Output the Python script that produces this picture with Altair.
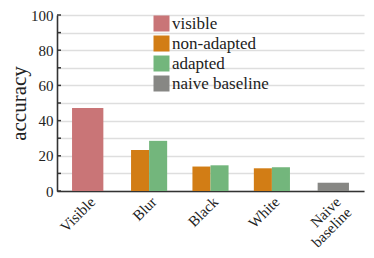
import altair as alt
import pandas as pd

conditions = ["Visible", "Blur", "Blur", "Black", "Black", "White", "White", "Naive baseline"]
series = ["visible", "non-adapted", "adapted", "non-adapted", "adapted", "non-adapted", "adapted", "naive baseline"]
accuracy = [47.1, 23.3, 28.5, 13.9, 14.6, 12.9, 13.5, 4.7]

category_order = ["Visible", "Blur", "Black", "White", "Naive baseline"]
series_order = ["visible", "non-adapted", "adapted", "naive baseline"]
series_colors = ["#c97577", "#d27d15", "#73b67c", "#878784"]
pair_order = ["non-adapted", "adapted"]
y_ticks = [0, 10, 20, 30, 40, 50, 60, 70, 80, 90, 100]

FONT = "Liberation Serif"
TXT = "#222222"
AX = "#333333"

df = pd.DataFrame({"condition": conditions, "series": series, "accuracy": accuracy})
ticks_df = pd.DataFrame({"accuracy": y_ticks})

x_enc = alt.X(
    "condition:N",
    sort=category_order,
    scale=alt.Scale(domain=category_order, paddingInner=0, paddingOuter=0),
    axis=alt.Axis(
        title=None, labelAngle=315, labelAlign="right", labelBaseline="top",
        ticks=False, grid=False,
        labelExpr="datum.label == 'Naive baseline' ? ['Naive\u00a0\u00a0', 'baseline'] : datum.label",
        labelLineHeight=15, labelFont=FONT, labelFontSize=15, labelColor=TXT,
        labelPadding=3, domainColor=AX, domainWidth=1.6, labelOverlap=False,
    ),
)
y_axis = alt.Axis(
    values=y_ticks, labelExpr="datum.value % 20 == 0 ? datum.label : ''",
    labelOverlap=False, ticks=False, grid=True, gridColor="#dedede", gridWidth=1.5,
    domainColor=AX, domainWidth=1.6, title="accuracy", titleFont=FONT,
    titleFontSize=21, titleFontWeight="normal", titleColor=TXT, titlePadding=1,
    labelFont=FONT, labelFontSize=15, labelColor=TXT, labelPadding=4,
)
y_scale = alt.Scale(domain=[0, 100], nice=False)
y_enc = alt.Y("accuracy:Q", scale=y_scale, axis=y_axis)

color_enc = alt.Color(
    "series:N",
    scale=alt.Scale(domain=series_order, range=series_colors),
    legend=alt.Legend(
        title=None, orient="none", legendX=96, legendY=0, symbolType="square",
        symbolSize=256, symbolStrokeWidth=0, labelFont=FONT, labelFontSize=17,
        labelColor=TXT, rowPadding=2, labelOffset=2,
    ),
)

single = alt.Chart(df).transform_filter(
    alt.FieldOneOfPredicate(field="series", oneOf=["visible", "naive baseline"])
).mark_bar(width=alt.RelativeBandSize(0.51)).encode(x=x_enc, y=y_enc, color=color_enc)

paired = alt.Chart(df).transform_filter(
    alt.FieldOneOfPredicate(field="series", oneOf=pair_order)
).mark_bar().encode(
    x=x_enc, y=y_enc, color=color_enc,
    xOffset=alt.XOffset("series:N", sort=pair_order,
                        scale=alt.Scale(domain=pair_order, paddingInner=0, paddingOuter=0.7)),
)

inner_ticks = alt.Chart(ticks_df).mark_rule(color=AX, strokeWidth=1.5).encode(
    y=alt.Y("accuracy:Q", scale=y_scale, axis=y_axis), x=alt.value(0), x2=alt.value(4)
)

chart = alt.layer(single, paired, inner_ticks).properties(
    width=358, height=242,
    autosize=alt.AutoSizeParams(type="fit", contains="padding"),
    padding={"left": 0, "top": 0, "right": 2, "bottom": 0},
    background="white",
).configure_view(stroke=None).configure_axis(labelOverlap=False)

chart.save("out.html", embed_options={"renderer": "svg", "actions": False})
